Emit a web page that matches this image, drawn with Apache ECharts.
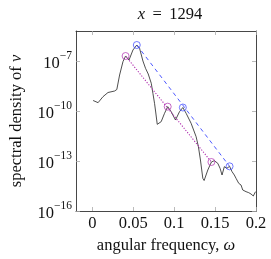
<!DOCTYPE html>
<html>
<head>
<meta charset="utf-8">
<script src="https://cdn.jsdelivr.net/npm/echarts@6/dist/echarts.min.js"></script>
<style>
html,body{margin:0;padding:0;background:#fff;}
#chart{width:271px;height:259px;}
</style>
</head>
<body>
<div id="chart"></div>
<script>
// Tick positions
const xTicks = [0, 0.05, 0.1, 0.15, 0.2];
const yTickExponents = [-16, -13, -10, -7];

// Spectrum (angular frequency, log10 of spectral density)
const omega = [0.0009, 0.0070, 0.0130, 0.0191, 0.0272, 0.0299, 0.0333, 0.0374, 0.0406, 0.0448,
  0.0467, 0.0496, 0.0543, 0.0577, 0.0618, 0.0650, 0.0683, 0.0720, 0.0740, 0.0760,
  0.0774, 0.0793, 0.0841, 0.0882, 0.0921, 0.0963, 0.1016, 0.1065, 0.1106, 0.1146,
  0.1207, 0.1268, 0.1296, 0.1321, 0.1350, 0.1366, 0.1411, 0.1455, 0.1491, 0.1533,
  0.1561, 0.1585, 0.1613, 0.1643, 0.1677, 0.1707, 0.1735, 0.1756, 0.1789, 0.1817,
  0.1838, 0.1878, 0.1911, 0.1939, 0.1967, 0.1994];
const log10Density = [-9.37, -9.50, -9.14, -8.89, -8.80, -8.71, -7.84, -7.04, -6.70, -6.94,
  -7.04, -6.34, -6.04, -6.24, -7.00, -7.44, -7.78, -8.34, -8.94, -9.54,
  -10.06, -10.80, -10.64, -10.14, -9.74, -10.04, -10.54, -10.04, -9.79, -10.14,
  -10.74, -11.54, -12.14, -12.94, -14.04, -14.17, -13.54, -13.06, -12.98, -13.14,
  -13.44, -13.84, -13.34, -13.44, -13.32, -13.64, -13.84, -14.04, -14.34, -14.44,
  -14.74, -14.84, -14.90, -14.98, -15.10, -14.84];

// Marked peaks
const magentaPeakOmega = [0.0406, 0.0921, 0.1455];
const magentaPeakLog = [-6.70, -9.74, -13.06];
const bluePeakOmega = [0.0543, 0.1106, 0.1677];
const bluePeakLog = [-6.04, -9.79, -13.32];

const FONT = '"Liberation Serif", "DejaVu Serif", serif';
const FS = 16.5;
const magenta = '#b030b0';
const blue = '#3a46ff';

const spectrum = omega.map((w, i) => [w, log10Density[i]]);
const magentaPts = magentaPeakOmega.map((w, i) => [w, magentaPeakLog[i]]);
const bluePts = bluePeakOmega.map((w, i) => [w, bluePeakLog[i]]);
const magentaLine = [magentaPts[0], magentaPts[magentaPts.length - 1]];
const blueLine = [bluePts[0], bluePts[bluePts.length - 1]];

const chart = echarts.init(document.getElementById('chart'), null, {renderer: 'canvas'});

const axisLineStyle = {color: '#333', width: 0.9};
const tickStyle = {color: '#aaa', width: 0.8};
const italic = {fontFamily: FONT, fontSize: FS, fontStyle: 'italic', color: '#111'};

chart.setOption({
  animation: false,
  backgroundColor: '#fff',
  title: {
    text: '{i|x}\u2009 = \u20091294',
    left: 165, top: 1, textAlign: 'center',
    textStyle: {
      fontFamily: FONT, fontSize: FS, fontWeight: 'normal', color: '#111',
      rich: {i: italic}
    }
  },
  grid: {left: 74, right: 15, top: 31, bottom: 48, containLabel: false},
  xAxis: [{
    type: 'value', min: -0.02, max: 0.2, position: 'bottom',
    name: 'angular frequency, {i|ω}', nameLocation: 'middle', nameGap: 23,
    nameTextStyle: {fontFamily: FONT, fontSize: FS, color: '#111', rich: {i: italic}},
    axisLine: {show: true, onZero: false, lineStyle: axisLineStyle},
    axisTick: {show: true, inside: true, length: 4, customValues: xTicks, lineStyle: tickStyle},
    axisLabel: {show: true, customValues: xTicks, margin: 4, fontFamily: FONT, fontSize: FS, color: '#111',
      formatter: v => String(v)},
    splitLine: {show: false}
  }, {
    type: 'value', min: -0.02, max: 0.2, position: 'top',
    axisLine: {show: true, onZero: false, lineStyle: axisLineStyle},
    axisTick: {show: true, inside: true, length: 4, customValues: xTicks, lineStyle: tickStyle},
    axisLabel: {show: false},
    splitLine: {show: false}
  }],
  yAxis: [{
    type: 'value', min: -16, max: -5.2, position: 'left',
    name: 'spectral density of {i|v}', nameLocation: 'middle', nameGap: 51, nameRotate: 90,
    nameTextStyle: {fontFamily: FONT, fontSize: FS, color: '#111', rich: {i: italic}},
    axisLine: {show: true, onZero: false, lineStyle: axisLineStyle},
    axisTick: {show: true, inside: true, length: 4, customValues: yTickExponents, lineStyle: tickStyle},
    axisLabel: {show: true, customValues: yTickExponents, margin: 4,
      formatter: v => '{b|10}{s|\u2212' + Math.abs(v) + '}',
      rich: {
        b: {fontFamily: FONT, fontSize: FS, color: '#111', verticalAlign: 'bottom', lineHeight: 22},
        s: {fontFamily: FONT, fontSize: 11.5, color: '#111', verticalAlign: 'top', lineHeight: 13}
      }},
    splitLine: {show: false}
  }, {
    type: 'value', min: -16, max: -5.2, position: 'right',
    axisLine: {show: true, onZero: false, lineStyle: axisLineStyle},
    axisTick: {show: true, inside: true, length: 4, customValues: yTickExponents, lineStyle: tickStyle},
    axisLabel: {show: false},
    splitLine: {show: false}
  }],
  series: [{
    type: 'line', data: spectrum, symbol: 'none', smooth: false,
    lineStyle: {color: '#222', width: 0.8}, z: 2
  }, {
    type: 'line', data: magentaLine, symbol: 'none',
    lineStyle: {color: magenta, width: 1.1, type: [1.2, 1.6]}, z: 3
  }, {
    type: 'line', data: blueLine, symbol: 'none',
    lineStyle: {color: blue, width: 0.9, type: [4, 3.5]}, z: 3
  }, {
    type: 'scatter', data: magentaPts, symbol: 'circle', symbolSize: 7,
    itemStyle: {color: 'rgba(0,0,0,0)', borderColor: magenta, borderWidth: 0.9}, z: 4
  }, {
    type: 'scatter', data: bluePts, symbol: 'circle', symbolSize: 7,
    itemStyle: {color: 'rgba(0,0,0,0)', borderColor: blue, borderWidth: 0.9}, z: 4
  }]
});
</script>
</body>
</html>
